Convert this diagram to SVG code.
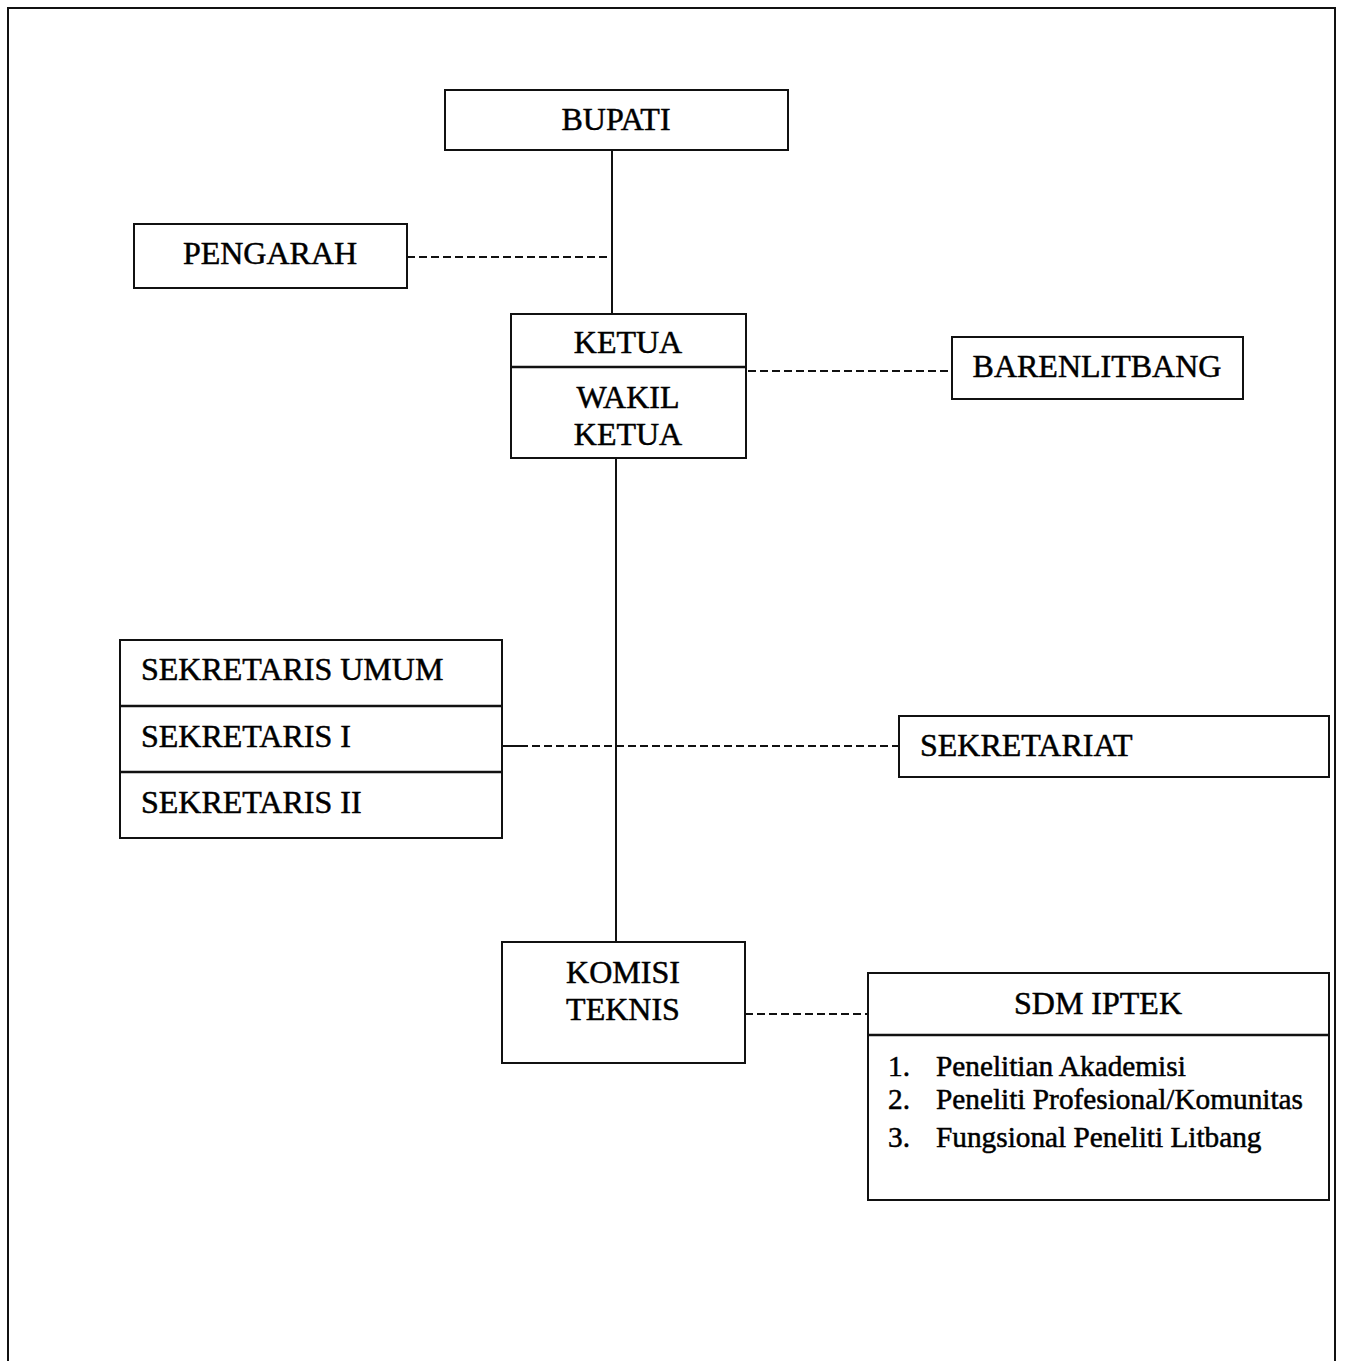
<svg xmlns="http://www.w3.org/2000/svg" width="1345" height="1361" viewBox="0 0 1345 1361">
<style>
.box{fill:#fff;stroke:#111;stroke-width:2}
.div{stroke:#111;stroke-width:2.5}
.solid{stroke:#111;stroke-width:2;fill:none}
.dash{stroke:#111;stroke-width:2;fill:none;stroke-dasharray:8 4}
text{font-family:"Liberation Serif","Times New Roman",serif;font-size:32px;fill:#000;stroke:#000;stroke-width:0.5}
.c{text-anchor:middle}
.s{font-size:29.3px}
</style>
<rect width="1345" height="1361" fill="#fff"/>
<g id="frame">
<path class="solid" d="M8,1361 V8 H1335 V1361"/>
</g>
<g id="connectors">
<line class="solid" x1="612" y1="150" x2="612" y2="314"/>
<line class="dash" x1="407" y1="257" x2="612" y2="257"/>
<line class="dash" x1="748" y1="371" x2="952" y2="371"/>
<line class="solid" x1="616" y1="458" x2="616" y2="942"/>
<line class="solid" x1="502" y1="746" x2="520" y2="746"/>
<line class="dash" x1="520" y1="746" x2="899" y2="746"/>
<line class="dash" x1="745" y1="1014" x2="868" y2="1014"/>
</g>
<g id="bupati">
<rect class="box" x="445" y="90" width="343" height="60"/>
<text class="c" x="616" y="130">BUPATI</text>
</g>
<g id="pengarah">
<rect class="box" x="134" y="224" width="273" height="64"/>
<text class="c" x="270" y="264">PENGARAH</text>
</g>
<g id="ketua">
<rect class="box" x="511" y="314" width="235" height="144"/>
<line class="div" x1="511" y1="367" x2="746" y2="367"/>
<text class="c" x="628" y="353">KETUA</text>
<text class="c" x="628" y="408">WAKIL</text>
<text class="c" x="628" y="445">KETUA</text>
</g>
<g id="barenlitbang">
<rect class="box" x="952" y="337" width="291" height="62"/>
<text class="c" x="1097" y="377">BARENLITBANG</text>
</g>
<g id="sekretaris">
<rect class="box" x="120" y="640" width="382" height="198"/>
<line class="div" x1="120" y1="706" x2="502" y2="706"/>
<line class="div" x1="120" y1="772" x2="502" y2="772"/>
<text x="141" y="680">SEKRETARIS UMUM</text>
<text x="141" y="747">SEKRETARIS I</text>
<text x="141" y="813">SEKRETARIS II</text>
</g>
<g id="sekretariat">
<rect class="box" x="899" y="716" width="430" height="61"/>
<text x="920" y="756">SEKRETARIAT</text>
</g>
<g id="komisi">
<rect class="box" x="502" y="942" width="243" height="121"/>
<text class="c" x="623" y="983">KOMISI</text>
<text class="c" x="623" y="1020">TEKNIS</text>
</g>
<g id="sdm">
<rect class="box" x="868" y="973" width="461" height="227"/>
<line class="div" x1="868" y1="1035" x2="1329" y2="1035"/>
<text class="c" x="1098" y="1014">SDM IPTEK</text>
<text class="s" x="888" y="1076">1.</text>
<text class="s" x="936" y="1076">Penelitian Akademisi</text>
<text class="s" x="888" y="1109">2.</text>
<text class="s" x="936" y="1109">Peneliti Profesional/Komunitas</text>
<text class="s" x="888" y="1147">3.</text>
<text class="s" x="936" y="1147">Fungsional Peneliti Litbang</text>
</g>
</svg>
